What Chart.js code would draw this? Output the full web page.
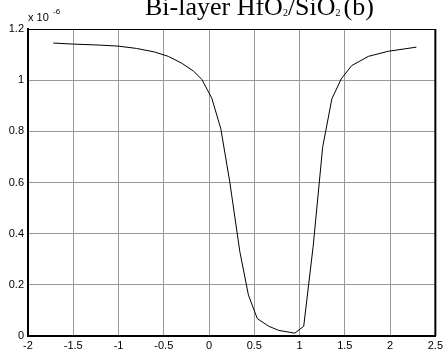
<!DOCTYPE html>
<html>
<head>
<meta charset="utf-8">
<script src="https://cdn.jsdelivr.net/npm/chart.js@4/dist/chart.umd.min.js"></script>
<style>
  html, body { margin: 0; padding: 0; background: #fff; }
  #wrap { width: 446px; height: 349px; position: relative; }
</style>
</head>
<body>
<div id="wrap"><canvas id="chart" width="446" height="349"></canvas></div>
<script>
// curve values, y in units of 1e-6
const xValues = [-1.72, -1.5, -1.2, -1.0, -0.8, -0.6, -0.45, -0.3, -0.17, -0.08, 0.03, 0.13, 0.23, 0.34, 0.435, 0.533, 0.66, 0.77, 0.947, 1.046, 1.15, 1.255, 1.357, 1.46, 1.576, 1.76, 1.98, 2.29];
const yValues = [1.145, 1.141, 1.137, 1.133, 1.124, 1.110, 1.093, 1.066, 1.035, 1.003, 0.93, 0.81, 0.60, 0.33, 0.16, 0.068, 0.038, 0.022, 0.011, 0.038, 0.35, 0.738, 0.927, 1.005, 1.057, 1.093, 1.113, 1.129];
const xTickLabels = ['-2', '-1.5', '-1', '-0.5', '0', '0.5', '1', '1.5', '2', '2.5'];
const yTickLabels = ['0', '0.2', '0.4', '0.6', '0.8', '1', '1.2'];

const points = xValues.map((x, i) => ({ x: x, y: yValues[i] }));

const frame = {
  id: 'frame',
  afterDraw(chart) {
    const { ctx, chartArea: a } = chart;
    ctx.save();
    ctx.strokeStyle = '#000';
    ctx.lineWidth = 1;
    ctx.beginPath();
    ctx.moveTo(a.left, a.top + 0.5);
    ctx.lineTo(a.right, a.top + 0.5);
    ctx.stroke();
    ctx.lineWidth = 2;
    ctx.beginPath();
    ctx.moveTo(a.right, a.top);
    ctx.lineTo(a.right, a.bottom);
    ctx.stroke();

    // title with subscripts, clipped at the top like the original
    const parts = [['Bi-layer HfO', 26, 0, 0], ['2', 10, 1, 0], ['/SiO', 26, 0, 0], ['2', 10, 1, 3], ['(b)', 26, 0, 0]];
    let x = 145;
    ctx.fillStyle = '#000';
    ctx.textBaseline = 'alphabetic';
    ctx.textAlign = 'left';
    parts.forEach(p => {
      ctx.font = p[1] + 'px "Liberation Serif", "Times New Roman", serif';
      ctx.fillText(p[0], x, 15 + p[2]);
      x += ctx.measureText(p[0]).width + p[3];
    });

    // multiplier label
    ctx.font = '11px "Liberation Sans", Arial, sans-serif';
    ctx.fillText('x 10', 28, 21);
    ctx.font = '8px "Liberation Sans", Arial, sans-serif';
    ctx.fillText('-6', 53, 14);
    ctx.restore();
  }
};

new Chart(document.getElementById('chart'), {
  type: 'line',
  data: {
    datasets: [{
      data: points,
      borderColor: '#000',
      borderWidth: 1,
      pointRadius: 0,
      tension: 0,
      fill: false
    }]
  },
  options: {
    responsive: false,
    animation: false,
    layout: { padding: { left: 0, right: 7, top: 29, bottom: 0 } },
    plugins: { legend: { display: false }, tooltip: { enabled: false } },
    scales: {
      x: {
        type: 'linear',
        min: -2,
        max: 2.5,
        afterBuildTicks: s => { s.ticks = xTickLabels.map(v => ({ value: parseFloat(v) })); },
        afterFit: s => { s.height = 13; },
        ticks: {
          autoSkip: false,
          maxRotation: 0,
          padding: 3,
          color: '#000',
          font: { family: '"Liberation Sans", Arial, sans-serif', size: 11 },
          callback: (v, i) => xTickLabels[i]
        },
        grid: { color: '#999', lineWidth: 1, drawTicks: false },
        border: { color: '#000', width: 2 }
      },
      y: {
        type: 'linear',
        min: 0,
        max: 1.2,
        afterBuildTicks: s => { s.ticks = yTickLabels.map(v => ({ value: parseFloat(v) })); },
        afterFit: s => { s.width = 28; },
        ticks: {
          autoSkip: false,
          padding: 4,
          color: '#000',
          font: { family: '"Liberation Sans", Arial, sans-serif', size: 11 },
          callback: (v, i) => yTickLabels[i]
        },
        grid: { color: '#999', lineWidth: 1, drawTicks: false },
        border: { color: '#000', width: 2 }
      }
    }
  },
  plugins: [frame]
});
</script>
</body>
</html>
